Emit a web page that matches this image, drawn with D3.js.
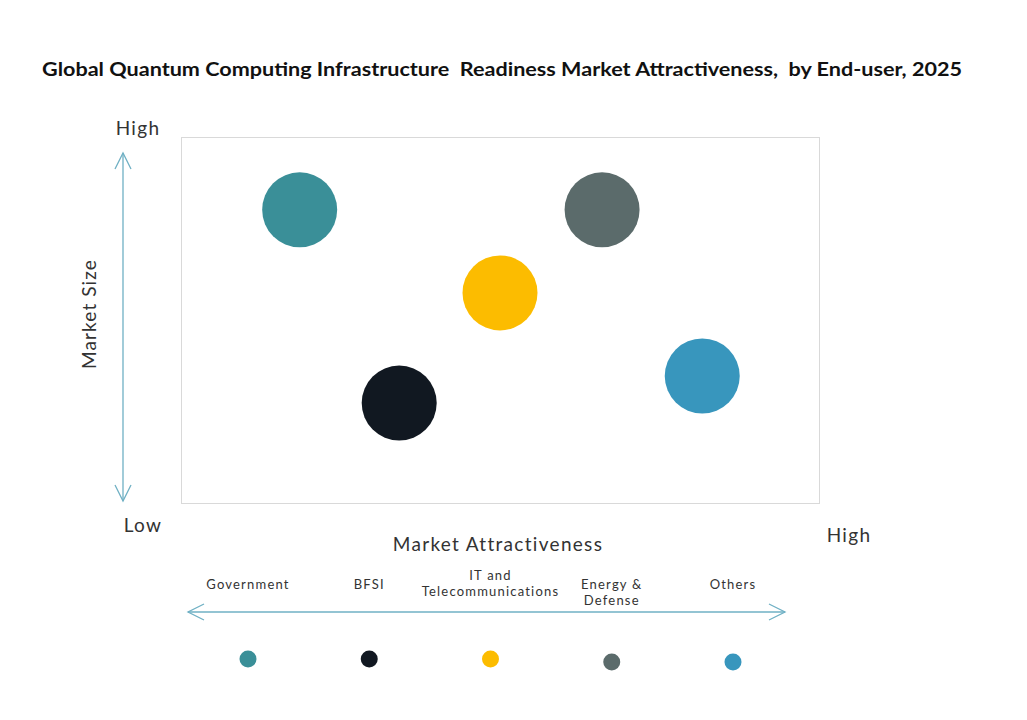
<!DOCTYPE html>
<html>
<head>
<meta charset="utf-8">
<script src="https://cdn.jsdelivr.net/npm/d3@7"></script>
<style>
  body { margin: 0; background: #fff; }
  svg { display: block; font-family: "Lato", "Open Sans", sans-serif; }
</style>
</head>
<body>
<svg id="chart" width="1027" height="720"></svg>
<script>
// end-user segments
var segments = ["Government", "BFSI", "IT and Telecommunications", "Energy & Defense", "Others"];
var labelLines = [["Government"], ["BFSI"], ["IT and", "Telecommunications"], ["Energy &", "Defense"], ["Others"]];
var attractiveness = [18.6, 34.2, 50.0, 66.0, 81.7];   // x, 0-100
var marketSize = [80.1, 27.3, 57.4, 80.1, 34.7];       // y, 0-100
var colors = ["#3a8f98", "#111821", "#fcbc00", "#5b6b6b", "#3896bd"];

var svg = d3.select("#chart");
var arrowColor = "#6fb0c4";

var plot = {left: 181, top: 137, right: 819, bottom: 503};

var x = d3.scaleLinear().domain([0, 100]).range([plot.left, plot.right]);
var y = d3.scaleLinear().domain([0, 100]).range([plot.bottom, plot.top]);

// title (double spaces kept as in the original)
svg.append("text")
    .attr("x", 42).attr("y", 76)
    .attr("textLength", 920).attr("lengthAdjust", "spacingAndGlyphs")
    .style("white-space", "pre")
    .style("font-size", "19px").style("font-weight", "bold").style("fill", "#111")
    .text("Global Quantum Computing Infrastructure  Readiness Market Attractiveness,  by End-user, 2025");

// plot frame
svg.append("rect")
    .attr("x", plot.left + 0.5).attr("y", plot.top + 0.5)
    .attr("width", plot.right - plot.left).attr("height", plot.bottom - plot.top)
    .attr("fill", "none").attr("stroke", "#d9d9d9");

function chevron(cx, cy, dir) {
    // open arrow head, dir: "up" | "down" | "left" | "right"
    var s = 8, l = 16;
    var p;
    if (dir === "up") p = [[cx - s, cy + l], [cx, cy], [cx + s, cy + l]];
    if (dir === "down") p = [[cx - s, cy - l], [cx, cy], [cx + s, cy - l]];
    if (dir === "left") p = [[cx + l, cy - s], [cx, cy], [cx + l, cy + s]];
    if (dir === "right") p = [[cx - l, cy - s], [cx, cy], [cx - l, cy + s]];
    svg.append("path").attr("d", d3.line()(p))
        .attr("fill", "none").attr("stroke", arrowColor).attr("stroke-width", 1.3);
}

// vertical arrow
svg.append("line").attr("x1", 123).attr("x2", 123).attr("y1", 153).attr("y2", 501)
    .attr("stroke", arrowColor).attr("stroke-width", 1.3);
chevron(123, 153, "up");
chevron(123, 501, "down");

var axisText = function (t, xx, yy, anchor) {
    return svg.append("text").attr("x", xx).attr("y", yy)
        .attr("text-anchor", anchor || "middle")
        .style("font-size", "19px").style("letter-spacing", "1.3px")
        .style("fill", "#333").text(t);
};
axisText("High", 138, 135);
axisText("Low", 143, 532);
axisText("High", 849, 542);
axisText("Market Attractiveness", 498, 551);
svg.append("text")
    .attr("transform", "translate(96,314) rotate(-90)")
    .attr("text-anchor", "middle")
    .style("font-size", "19px").style("letter-spacing", "1.1px").style("fill", "#333")
    .text("Market Size");

// bubbles
svg.append("g").selectAll("circle")
    .data(segments)
    .join("circle")
    .attr("cx", function (d, i) { return x(attractiveness[i]); })
    .attr("cy", function (d, i) { return y(marketSize[i]); })
    .attr("r", 37.5)
    .attr("fill", function (d, i) { return colors[i]; });

// legend
var lx = d3.scalePoint().domain(segments).range([248, 733]);

svg.append("line").attr("x1", 188).attr("x2", 785).attr("y1", 612).attr("y2", 612)
    .attr("stroke", arrowColor).attr("stroke-width", 1.3);
chevron(188, 612, "left");
chevron(785, 612, "right");

var labels = svg.append("g").selectAll("text")
    .data(segments)
    .join("text")
    .attr("text-anchor", "middle")
    .attr("transform", function (d, i) {
        var top = i === 2 ? 580 : 589;
        return "translate(" + lx(d) + "," + top + ")";
    })
    .style("font-size", "13px").style("letter-spacing", "1.2px").style("fill", "#333");

labels.selectAll("tspan")
    .data(function (d, i) { return labelLines[i]; })
    .join("tspan")
    .attr("x", 0)
    .attr("dy", function (d, j) { return j === 0 ? 0 : 16; })
    .text(function (d) { return d; });

svg.append("g").selectAll("circle")
    .data(segments)
    .join("circle")
    .attr("cx", function (d) { return lx(d); })
    .attr("cy", function (d, i) { return i > 2 ? 662 : 659; })
    .attr("r", 8.5)
    .attr("fill", function (d, i) { return colors[i]; });
</script>
</body>
</html>
